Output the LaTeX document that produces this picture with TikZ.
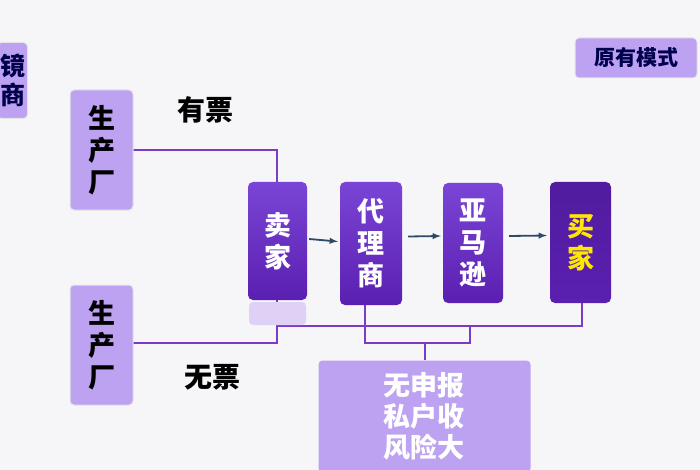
\documentclass[tikz,border=0pt]{standalone}
\usepackage{fontspec}
\usetikzlibrary{calc}
\setmainfont{Noto Sans CJK SC}[BoldFont={Noto Sans CJK SC Black}]
\begin{document}
\begin{tikzpicture}[x=1pt,y=-1pt,
 lav/.style={draw=white!80!gray,fill=lavA,rounded corners=4pt,line width=1pt},
 dk/.style={draw=none,top color=purpA,bottom color=purpB,rounded corners=5pt},
 ln/.style={draw=lineC,line width=1.3pt},
 ar/.style={draw=arC,line width=1.8pt,-latex},
 txt/.style={font=\bfseries\fontsize{27}{32}\selectfont,align=center}]
\definecolor{lavA}{HTML}{BDA2F2}
\definecolor{purpA}{HTML}{7A45D6}
\definecolor{purpB}{HTML}{5A1FB0}
\definecolor{lineC}{HTML}{7A3CC4}
\definecolor{arC}{HTML}{2E4A66}
\definecolor{bgC}{HTML}{F6F5F8}
\fill[bgC] (0,0) rectangle (700,470);
\useasboundingbox (0,0) rectangle (700,470);
% wires
\coordinate (j1) at (277,150);
\coordinate (j2) at (277,343);
\coordinate (j3) at (133,343);
\coordinate (h1) at (277,326);
\coordinate (h2) at (582,326);
\coordinate (k1) at (365,343);
\coordinate (k2) at (470,343);
\coordinate (k3) at (470,326);
\coordinate (k4) at (425,343);
\draw[ln] (133,150) -- (j1) -- (277,182);
\draw[ln] (277,300) -- (j2) -- (j3);
\draw[ln] (h1) -- (h2) -- (582,303);
\draw[ln] (365,305) -- (k1) -- (k2) -- (k3);
\draw[ln] (k4) -- (425,360);
% boxes
\node[lav,minimum width=30pt,minimum height=76pt,anchor=north east,inner sep=0] (m) at (28,42) {};
\node[txt,text=black!70!blue,anchor=east,font=\bfseries\fontsize{25}{29}\selectfont] at (29,80) {镜\\商};
\node[lav,minimum width=63pt,minimum height=120pt] (p1) at (101.5,150) {};
\node[txt,text=black] at (p1) {生\\产\\厂};
\node[lav,minimum width=63pt,minimum height=120pt] (p2) at (101.5,345) {};
\node[txt,text=black] at (p2) {生\\产\\厂};
\node[dk,minimum width=59pt,minimum height=118pt] (s) at (277.5,241) {};
\node[txt,text=white] at (s) {卖\\家};
\fill[purpA!25,rounded corners=4pt] (249,302) rectangle (306,325);
\node[dk,minimum width=62pt,minimum height=123pt] (a) at (371,243.5) {};
\node[txt,text=white] at (a) {代\\理\\商};
\node[dk,minimum width=60pt,minimum height=120pt] (z) at (473,243) {};
\node[txt,text=white] at (z) {亚\\马\\逊};
\node[dk,minimum width=61pt,minimum height=121pt,top color=purpB!90!black,bottom color=purpB] (b) at (580.5,242.5) {};
\node[txt,text=yellow!90!orange] at (b) {买\\家};
\draw[ar] ($(s.east)+(2,-2)$) -- ($(a.west)+(-2,-2)$);
\draw[ar] ($(a.east)+(6,-7)$) -- ($(z.west)+(-2,-7)$);
\draw[ar] ($(z.east)+(6,-7)$) -- ($(b.west)+(-3,-7)$);
\node[lav,draw=none,minimum width=212pt,minimum height=112pt,anchor=north west] (r) at (318,360) {};
\node[txt,text=white,font=\bfseries\fontsize{27}{31}\selectfont] at (424,416) {无申报\\私户收\\风险大};
\node[lav,minimum width=122pt,minimum height=40pt] (o) at (636,58) {};
\node[txt,text=black!70!blue,font=\bfseries\fontsize{21}{24}\selectfont] at (o) {原有模式};
\node[txt,text=black,font=\bfseries\fontsize{28}{32}\selectfont] (y) at (205,110) {有票};
\node[txt,text=black,font=\bfseries\fontsize{28}{32}\selectfont] (w) at (212,377) {无票};
\end{tikzpicture}
\end{document}
